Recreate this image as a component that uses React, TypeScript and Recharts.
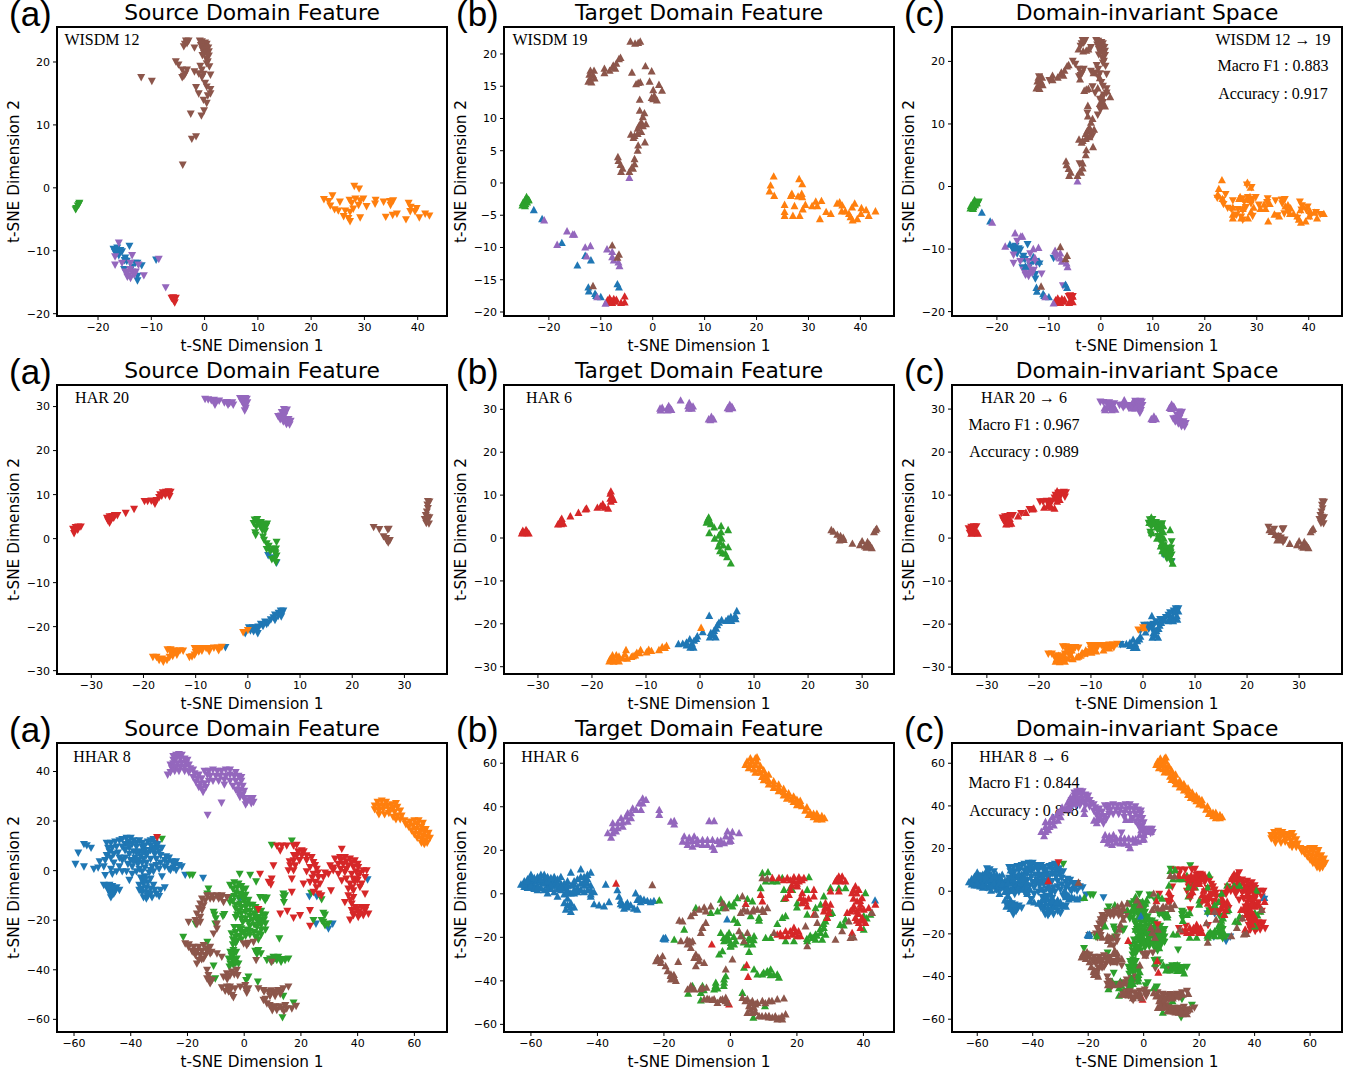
import React from 'react';
import { ScatterChart, Scatter, XAxis, YAxis } from 'recharts';

type Pt = [number, number];

const COLORS = ['#1f77b4', '#ff7f0e', '#2ca02c', '#d62728', '#9467bd', '#8c564b'];

// ---- WISDM source (12)
const wisdmSrcBlue: Pt[] = [[-17.1,-9.8],[-16.4,-9.6],[-15.8,-10],[-16.8,-10.3],[-15.5,-10.2],[-14.1,-9.3],[-16.1,-10.8],[-14.9,-11.2],[-14.6,-11.7],[-15.1,-13],[-13,-12],[-12.6,-12],[-11.8,-12.4],[-9.1,-11.5],[-12.6,-14.1],[-12.6,-14.8],[-16.3,-10.2],[-15,-11.6],[-13.6,-12.6]];
const wisdmSrcOrange: Pt[] = [[28.1,0.2],[29,-0.2],[22.4,-1.9],[24,-1.3],[23.3,-2.2],[25.4,-2.3],[23.6,-2.9],[24.4,-3.5],[25.1,-3.7],[27.2,-2],[28.3,-1.8],[29.8,-1.8],[27.6,-2.5],[28.9,-2.8],[29.2,-2.1],[30.4,-3],[27.9,-3.4],[26.4,-3.7],[27.3,-3.9],[26.1,-4.6],[27,-4.9],[27.3,-5.4],[29.2,-4.8],[32.1,-2],[32,-2.6],[33.6,-2.3],[34.8,-2.2],[35.4,-2.1],[34.9,-2.8],[34,-4.7],[35.3,-4.4],[36.1,-4.2],[38.3,-2.5],[38.7,-3.1],[39.8,-3.3],[38.6,-3.8],[39.5,-3.8],[37.8,-5.1],[40.3,-4.8],[41.4,-4.2],[42.2,-4.5]];
const wisdmSrcGreen: Pt[] = [[-23.5,-2.5],[-23.8,-2.9],[-24.1,-3.3],[-24.2,-3.5],[-23.6,-2.7]];
const wisdmSrcRed: Pt[] = [[-5.9,-17.5],[-5.4,-17.6],[-5.8,-18],[-5.6,-18.3],[-6.2,-17.6]];
const wisdmSrcPurple: Pt[] = [[-16.1,-8.8],[-16.8,-11],[-16.8,-12.3],[-15.5,-12],[-13.6,-10.8],[-13.9,-12],[-12.4,-12.3],[-14.9,-13.4],[-14.2,-14],[-13.6,-13.4],[-14.5,-14.2],[-12.9,-13.4],[-13.9,-14.4],[-14.6,-13.6],[-14,-13],[-13.2,-13.9],[-11.4,-14],[-8.6,-11.4],[-7.3,-15.9]];
const wisdmSrcBrown: Pt[] = [[-0.9,23.3],[-0.5,23.2],[0.1,23],[0.4,22.8],[-0.7,22.6],[-0.2,22.4],[0.3,22.3],[0.7,22.2],[-0.4,21.9],[0.2,21.8],[0.8,21.6],[-0.1,21.3],[0.5,21.1],[-0.4,21],[0.8,20.9],[0.3,20.5],[0.6,20],[0.4,19.7],[-3.5,23.3],[-3,23.3],[-3.7,22.8],[-3.9,22.4],[-3.3,22.9],[-1.9,22.2],[-5.4,20],[-4.9,19.5],[-4.2,18.7],[-3.3,18.7],[-3.6,18.1],[-4.2,17.5],[-3.9,17.7],[-1.9,18.4],[-0.8,19.3],[-0.5,18.7],[-1.1,18.1],[-0.2,18],[-0.5,17.5],[1.1,17.9],[0.9,19.2],[-1.6,15.9],[-1.1,14.9],[0.1,16.6],[0.4,16],[1.1,15.6],[1.1,14.9],[0.6,14.6],[-0.2,13.9],[0.4,13.4],[-0.1,12.2],[-0.6,11.4],[-2.6,11.7],[-1.6,8.1],[-2.4,7.7],[-4.1,3.6],[-11.9,17.5],[-9.9,16.9]];

// ---- WISDM target (19)
const wisdmTgtBlue: Pt[] = [[-22.9,-4.1],[-21.3,-5.5],[-17.5,-9.2],[-13,-11.2],[-11.9,-11.9],[-14.5,-12.7],[-12.4,-16.1],[-12.3,-16.7],[-11.1,-17.1],[-10.9,-17.4],[-10,-17.6],[-6.8,-15.6],[-6.5,-16.1]];
const wisdmTgtOrange: Pt[] = [[23.3,1.1],[22.7,-0.3],[22.5,-1.2],[23.4,-1.9],[28.2,0.7],[28.8,-0.1],[26.8,-1.6],[26.6,-1.9],[28,-2],[28.7,-1.6],[28.8,-2.1],[25.4,-3.3],[27.3,-3.5],[25.4,-4.4],[25.4,-5],[27,-5],[28.3,-5],[28.9,-4],[29.4,-3.3],[30.7,-3.5],[31.4,-2.8],[31.7,-3.5],[32.5,-2.7],[32.2,-5.5],[33.4,-4.4],[34.3,-4.7],[35.5,-3.1],[36,-2.9],[36.5,-3.4],[36.4,-4.3],[37.1,-4.3],[37.8,-4.7],[38.1,-5.2],[38.5,-5.7],[39.4,-5.5],[38.9,-3.1],[38.4,-3.7],[40.2,-3.8],[40.1,-4.7],[41.1,-4.1],[41.6,-5],[42.9,-4.3]];
const wisdmTgtGreen: Pt[] = [[-24.3,-2.1],[-23.9,-2.5],[-24.6,-2.6],[-24.2,-2.9],[-25,-3],[-24.5,-3.2],[-25.1,-3.4],[-24.6,-3.5],[-23.9,-2.6]];
const wisdmTgtRed: Pt[] = [[-8.7,-18.1],[-8.3,-17.8],[-7.9,-18.2],[-7.5,-17.9],[-8.5,-18.5],[-7.8,-18.5],[-7.2,-18.3],[-7,-18],[-5.4,-17.5],[-5.4,-18.4],[-6.1,-18.5]];
const wisdmTgtPurple: Pt[] = [[-4.5,0.9],[-20.9,-5.7],[-16.5,-7.4],[-15.4,-7.9],[-15.1,-7.9],[-18.4,-9.5],[-13,-9.9],[-12,-9.7],[-12.7,-11.3],[-8.8,-10.2],[-7.8,-10.6],[-7.8,-11.4],[-7.5,-11.9],[-6.6,-12.2],[-6.4,-12.8],[-10.7,-17.6],[-9.1,-18.6]];
const wisdmTgtBrown: Pt[] = [[-4.3,22],[-3.4,21.7],[-2.8,21.8],[-2.4,22],[-12,17.5],[-11.3,17.5],[-12.2,16.9],[-11.5,16.8],[-12,16.3],[-11.2,16.3],[-12.4,15.8],[-11.8,15.7],[-9.3,17.8],[-9.3,17.1],[-8.3,17.5],[-7.7,18],[-7.2,17.8],[-7.6,18.3],[-6.5,19.3],[-6.2,19.5],[-7,18.6],[-1.4,18.2],[-4,17.2],[-0.2,17.4],[-2.4,15.7],[-3.2,15.4],[-2.8,15.6],[-0.6,15.8],[1.2,15.3],[1.8,14.4],[0.1,14.5],[0.3,13.6],[-0.2,13.3],[0.8,12.9],[0.1,13.1],[-2.5,13],[-2.5,11.3],[-1.6,10.9],[-1.9,10.3],[-2.2,9.5],[-1.3,9.2],[-2.6,9],[-1.9,8.9],[-2.9,8.5],[-2.2,8],[-4.2,7.6],[-3.5,7.4],[-2.9,7.7],[-3.7,7.1],[-1.5,6.4],[-2.8,5.9],[-2.9,5.1],[-6.7,4.1],[-6.6,3.5],[-6.2,2.9],[-5.8,2.3],[-6.1,1.8],[-4.5,1.8],[-3.8,2.3],[-3.5,3],[-3.5,3.8],[-4,2.5],[-11.5,-15.9],[-7.8,-9.6],[-6.5,-11],[-6.8,-11.5]];

// ---- HAR source (20)
const harSrcBlue: Pt[] = [[6.3,-16.5],[6.8,-16.5],[5.9,-17],[6.5,-17.2],[5.2,-17.4],[5.8,-17.7],[4.9,-18],[5.2,-18.6],[6.4,-17.8],[4.4,-18.5],[3.3,-19],[3.6,-19.5],[2.5,-19.5],[2.9,-20],[2,-20.1],[1.5,-20.3],[1.9,-20.7],[0.9,-20.3],[0.2,-20.3],[0.5,-21],[1.1,-21.2],[1.9,-21.6],[-0.5,-21.6],[-4.3,-24.8],[3.9,-19.2],[3.9,-3.9],[4.7,-4.4],[5.5,-5.6]];
const harSrcOrange: Pt[] = [[-0.9,-21.4],[0,-20.9],[-18.2,-27],[-17.5,-27],[-17,-27.7],[-16.4,-27.4],[-16.2,-28.1],[-15.5,-27.7],[-15,-27],[-15.4,-25.3],[-14.8,-25.3],[-14.2,-25.5],[-14.6,-26.3],[-13.6,-25.8],[-13,-25.5],[-12.4,-25.6],[-13.6,-26.5],[-14.4,-26.8],[-11.2,-27],[-10.7,-26.9],[-10.2,-25],[-9.8,-25.1],[-9.2,-25],[-8.7,-25],[-10,-25.9],[-9.4,-25.8],[-8.8,-25.6],[-10.2,-26.5],[-8,-25],[-7.4,-25],[-7.4,-25.7],[-6.5,-24.9],[-5.8,-24.9],[-5,-24.7],[-5.6,-25.5]];
const harSrcGreen: Pt[] = [[1.3,4.2],[1.8,4.3],[1.1,3.4],[1.9,3.4],[2.5,3.6],[3,3.2],[3.7,3.3],[1.6,2.6],[2.4,2.6],[3.2,2.4],[3.5,2.7],[2.8,1.8],[3.3,1.6],[1.4,1.3],[1.5,0.7],[2.9,0.3],[3.1,-0.4],[3.6,-1.2],[4,-1.8],[4.3,-3],[5.5,-0.9],[5.4,-2.4],[5.2,-3.2],[3.6,-2.5],[4.8,-2.4],[5.3,-3.5],[5.5,-4],[4.6,-4.8],[5.4,-5.5],[5.2,-4.6]];
const harSrcRed: Pt[] = [[-33.5,2.1],[-33,2.5],[-32.5,2.6],[-32,2.6],[-33.2,1.7],[-32.6,1.9],[-33.3,1.1],[-27,4.6],[-26.5,4.9],[-26,5],[-25.5,5.2],[-25,5.2],[-26.8,4],[-26.2,4.3],[-25.7,4.6],[-26.5,3.5],[-23.4,5.7],[-21.8,6.6],[-19.8,8.4],[-19.2,8.4],[-18.5,8.5],[-18,8.4],[-17.5,8.6],[-17.8,7.8],[-17,9.3],[-16.8,9.9],[-16.3,10.4],[-15.7,10.5],[-15.2,10.6],[-16.5,9.6],[-15.8,9.8],[-15,9.5],[-14.8,10.5]];
const harSrcPurple: Pt[] = [[-8.2,31.6],[-7.6,31.5],[-7,31.3],[-6.5,31.4],[-6,31.1],[-5.5,31.2],[-6.3,30.3],[-4.5,30.8],[-4,30.9],[-3.5,30.7],[-3,30.8],[-2.8,30.3],[-3.8,30.3],[-1.5,31.8],[-1,31.7],[-0.5,31.8],[-0.2,31.6],[-1.1,31],[-0.6,31],[-0.1,30.8],[-0.7,30.2],[-0.4,29.6],[-0.6,29],[6.9,29.3],[7.5,29.2],[6.5,28.6],[7.2,28.5],[5.8,27.7],[6.4,27.8],[7,27.8],[6.2,27],[7,27],[7.8,27],[6.8,26.5],[7.6,26.3],[8.2,26.6],[7.4,25.9],[8,25.8]];
const harSrcBrown: Pt[] = [[24.1,2.5],[25.2,2],[26.8,2],[27,2.1],[26,0.4],[26.5,0],[26.9,-1],[27.2,-0.5],[26.6,-0.5],[34.5,8.4],[34.8,8.3],[34.4,7.6],[34.5,6.8],[34.3,6],[34.1,5.2],[34.8,4.7],[33.9,4.3],[34.5,4.2],[34.2,3.4],[34.7,3.3],[34.4,4.8]];

// ---- HAR target (6)
const harTgtBlue: Pt[] = [[6.8,-16.9],[6.5,-18],[6.6,-18.8],[5.7,-18.3],[5.2,-18.7],[5.8,-19.2],[4.8,-19.2],[4,-19],[3.5,-19.6],[3.2,-20.2],[1.7,-18],[3,-21],[2.6,-21.5],[2,-22],[2.4,-22.5],[2.9,-23],[1.8,-23],[0.5,-21.8],[-0.5,-22.8],[-0.7,-23.4],[-1.1,-23.8],[-1.9,-23.5],[-1.5,-24.5],[-2.5,-24.2],[-3.2,-24.5],[-4,-24.6],[-1.8,-25.4],[-1.2,-25.4],[-2.5,-24.9]];
const harTgtOrange: Pt[] = [[0.2,-20.8],[-6.2,-25],[-6.5,-25.5],[-7,-25.3],[-7.6,-26],[-9,-26.2],[-9.5,-25.9],[-9.9,-26.5],[-11,-26],[-11.2,-26.7],[-11.7,-26.6],[-12,-27.2],[-12.4,-27.4],[-12.7,-27.6],[-13.7,-26],[-13.9,-27],[-13.5,-28],[-14.3,-27.9],[-15,-27.5],[-15.5,-27.2],[-16.2,-27.2],[-16.6,-28],[-16,-28.2],[-15.3,-28.3],[-16.8,-28.6],[-16,-28.7],[-15,-28.6]];
const harTgtGreen: Pt[] = [[1.4,4.4],[1.6,4.9],[1.8,4.1],[1.2,3.7],[2,3.4],[2.6,2.6],[1.7,1.3],[2.7,0],[3.9,2.9],[5.2,2],[3.9,1.5],[3.5,0.7],[4,0],[3.7,-0.9],[3.4,-1.8],[4.3,-1.6],[5.2,-2],[3.7,-2.9],[4.2,-3.4],[4.7,-3.5],[5,-4.3],[5.7,-5.8]];
const harTgtRed: Pt[] = [[-33,1.2],[-32.5,1.3],[-32,1.3],[-31.7,1.2],[-32.8,1.8],[-32.2,2],[-32,1.6],[-26.3,3.3],[-25.7,3.4],[-25.3,3.5],[-25.8,4.2],[-25.6,4.6],[-24,5.2],[-22.5,6],[-21.2,6.8],[-21,7],[-19,7.2],[-18.4,7.5],[-18,7.8],[-17.6,7.2],[-17,7],[-18,8],[-16.6,10.5],[-16.5,11],[-16.3,9.8],[-16.6,9.3],[-16,9],[-16.5,8.6]];
const harTgtPurple: Pt[] = [[-7.4,30.3],[-7,30.5],[-7.3,29.9],[-6,30.4],[-5.8,30.9],[-5.5,30.3],[-6,29.9],[-5.3,30],[-3.6,32.2],[-2.2,30.9],[-2,31.6],[-1.7,30.7],[-1.3,30.8],[-2.1,30.3],[-1.5,30.3],[1.6,27.8],[2.1,28.4],[2.5,27.8],[1.9,27.6],[5.1,30.4],[5.5,31.2],[5.9,30.7],[5.4,30.2],[6,30.4]];
const harTgtBrown: Pt[] = [[24.3,2],[24.7,1.6],[25.4,0.9],[26,0.6],[26.5,0.2],[25.8,-0.4],[26.6,-0.3],[28.2,-1.2],[30,-0.6],[29.6,-1.5],[30.5,-1.8],[31,-0.8],[31.3,-1.4],[30.8,-2.1],[31.8,-2.2],[31.5,-1.7],[32.5,2],[32.7,2.3],[32.2,1.5]];

// ---- HHAR source (8)
const hharSrcBlue: Pt[] = [[-59.5,2.5],[-58.5,7],[-56.5,1.5],[-56.5,10.5],[-55.5,10],[-54,9],[-53,0.5],[-51,3.5],[-51.5,1],[-49.5,1.5],[-48.5,11],[-48,9],[-48.5,6],[-47.5,7.5],[-47,11],[-46.5,9],[-46,3],[-49,-2],[-46.5,-1.5],[-45,-0.5],[-44,1.5],[-43,4],[-44.5,7],[-45.5,11.5],[-44,12],[-43,12.5],[-42,10.5],[-41.5,13],[-40,13],[-39,12],[-41,11.5],[-40.5,9],[-38,9.5],[-37,12],[-42,8],[-40.5,6.5],[-39,7.5],[-37,7.5],[-36,9.5],[-35,8],[-34,11.5],[-33,12],[-32,12.5],[-42,5],[-40,4],[-38.5,5],[-36.5,5.5],[-34.5,6],[-33,8],[-31.5,9],[-30.5,9],[-29,9],[-30,7.5],[-31.5,6.5],[-33,4.5],[-29.5,6],[-28,4],[-26.5,5],[-27,3],[-25.5,3.5],[-24.5,2],[-23,2],[-22,1.5],[-25,1],[-26.5,0.5],[-28,1.5],[-29.5,3],[-31,2],[-32.5,1.5],[-34.5,3],[-36,3],[-37.5,2.5],[-39.5,1.5],[-41,2.5],[-35,1],[-36,-0.5],[-38,-0.5],[-40.5,-4],[-36.5,-3],[-35,-2.5],[-33.5,-1],[-32,-0.5],[-29,-2.5],[-26,0],[-24,0],[-20.8,-1.9],[-14.5,-3.1],[-49.5,-6],[-48.5,-6.5],[-47.5,-6],[-46.5,-6.5],[-45,-7],[-48,-8],[-47,-8.5],[-45.5,-8.5],[-44,-8],[-47,-10],[-46,-9.5],[-47,-11],[-37,-6],[-35.5,-5.5],[-34,-5],[-32,-6],[-36,-7.5],[-34.5,-7],[-33,-7.5],[-36,-9],[-34.5,-9],[-33,-9.5],[-35.5,-11],[-34,-10.5],[-32.5,-11],[-31,-9.5],[-30,-10.5],[-29.5,-8],[-28,-7],[-36,-3.8],[-1.6,-11.8],[23,-10.6],[25.6,-10.6],[43.5,-3.8],[25.3,-21.6],[29.7,-23.6],[31.2,-21.6],[-49,4],[-47,5],[-46,6.5],[-44,5],[-45,9.5],[-43,9.5],[-41,10],[-39.5,10.5],[-38,11],[-36,11],[-35,10],[-33,10],[-31.5,11],[-30.5,10.5],[-32,7.5],[-34,7],[-36,7],[-38,7],[-39,3.5],[-37.5,4],[-35.5,4.5],[-31,4.5],[-27.5,5.5],[-24,3.5],[-30,0.5],[-33,0],[-37,0.5],[-39.5,-1.5],[-41.5,-0.5],[-43,-0.5],[-47,0.5],[-37,-8],[-35,-4],[-33,-3.5],[-31.5,-8],[-34.5,-11.5],[-46,-7.5],[-48,-7]];
const hharSrcOrange: Pt[] = [[47,27.5],[48.5,28],[50,27.5],[46,26],[47.5,26],[49,26],[50.5,26],[52,26.5],[53.5,27],[46,24.5],[47.5,24],[49,24.5],[51,24.5],[52.5,25],[54,25.5],[47.5,22.5],[49.5,22.5],[51,23],[53,23.5],[55,24],[52.5,21.5],[54,22],[55.5,22],[53.5,20.5],[55,20.5],[56.5,20],[57,18.5],[58.5,19.5],[60,20],[61.5,20],[63,19],[58,17.5],[59.5,18],[61,18.5],[62.5,17.5],[64,16.5],[59,16],[60.5,16.5],[62,16],[63.5,15.5],[65,15],[60,14.5],[61.5,14.5],[63,14],[64.5,13.5],[65.5,13],[61,13],[62.5,12.5],[64,12],[62.5,11],[63.5,10.5],[64.5,11]];
const hharSrcGreen: Pt[] = [[-29,12.6],[-19.2,-1.9],[-18.2,-1.9],[-1.6,-1.5],[2.1,-1.9],[4.2,-4.6],[9.7,10.2],[16.8,11.9],[-5,-6],[-3.5,-5],[-2,-5.5],[-1,-6.5],[-4,-7.5],[-2.5,-7],[-0.5,-8],[0.5,-7.5],[-0.5,-10],[0.5,-10],[-5,-11],[-5,-13],[-4,-12.5],[-3,-14],[-1.5,-13.5],[0,-12.5],[1.5,-12],[-3,-15.5],[-1,-15],[0.5,-15],[2,-14],[3,-14],[4,-15],[4.5,-16.5],[-2.5,-18],[-1,-17.5],[0.5,-17],[2,-16.5],[3.5,-17.5],[-3,-19],[-1,-19.5],[0.5,-19.5],[1.5,-21],[-0.5,-21],[5,-19],[6.5,-18],[7.5,-18],[6,-20],[7,-20],[5,-21],[6,-22],[7.5,-21.5],[4.5,-23],[6,-24],[7.5,-24],[3.5,-25],[5,-25.5],[6,-26],[4,-27],[5,-28],[1,-24],[2,-24.5],[0,-25],[-1,-25],[-3,-25],[-4.5,-25.5],[-3,-27],[-1.5,-26.5],[0.5,-26.5],[2,-26],[-4,-28],[-2.5,-28.5],[-1,-28],[-3,-29.5],[-12.6,-7.5],[-13,-9.5],[-10.8,-16.9],[-10.5,-18],[-10,-19.5],[-7,-17.8],[-7.5,-18.5],[-10.2,-21.6],[-17.2,-21.6],[-13,-29],[-10.8,-38.6],[-21.5,-27],[5.6,-10.9],[6.8,-11],[8,-11.1],[7.4,-12.2],[13.8,-9.5],[14.4,-10.2],[13.8,-11],[14,-12.9],[12.4,-27.6],[23.6,-9.2],[27.3,-11.8],[27.9,-17.3],[28.5,-18],[24.4,-20.2],[27.9,-20.9],[28.5,-22.3],[29.7,-21.6],[27.3,-20.2],[-3.8,-32.3],[-4.9,-33],[-3.8,-34.3],[-5.5,-35.7],[-4.3,-36],[-2.6,-35.7],[-2,-37.7],[-4.9,-37.7],[-3.8,-38.3],[-5.2,-39],[3.9,-32.6],[5,-32.3],[4.5,-33.9],[5.9,-33.6],[9.1,-35.7],[10.3,-35],[11.5,-36.3],[13.3,-35.9],[14.4,-36.3],[15.6,-35.7],[10.3,-36.3],[8,-36.3],[1.5,-43],[0.7,-44.4],[4.8,-45],[13.8,-50.8],[17.4,-53.5],[13.5,-59.4],[-12,-45],[-10.2,-43.7],[-3,-9],[-1.5,-9.5],[-2,-11],[-3.5,-10.5],[-0.5,-11.5],[1,-13.5],[-2,-16.5],[2,-18.5],[3,-20],[3.5,-22],[2,-22.5],[4,-19],[-2,-23],[-3.5,-23],[-1,-23.5],[6,-16.5],[-4,-30],[-3.8,-36.5],[-2.8,-33],[-4.5,-34.5],[-3,-37.5],[12,-35],[11,-35.5],[9.5,-37],[13,-37]];
const hharSrcRed: Pt[] = [[-30.7,13.3],[5.6,-1.5],[5,-15.8],[10.3,1.9],[9.7,-3.5],[8.6,-4.8],[9.4,-5.8],[11.5,9.9],[13.3,9.9],[15,9.9],[12.7,7.9],[17.4,9.9],[18.5,10.2],[20.3,7.9],[18.5,5.9],[20.3,5.9],[22,5.9],[17.4,3.9],[23.8,5.2],[16.2,1.9],[18,1.9],[15.6,-0.1],[17.4,-0.1],[16.8,-3.5],[24.4,3.2],[25.6,0.5],[23.2,1.2],[24.4,-1.5],[26.2,-2.8],[27.9,-2.8],[29.7,-1.5],[23.2,-4.8],[25,-4.8],[26.7,-5.5],[20.9,-5.5],[24.4,-8.8],[26.2,-9.5],[27.2,-10.2],[16.8,-8.8],[30.6,-8.2],[32,4.6],[30.3,1.9],[31.4,-0.1],[34.4,8.6],[33.8,5.2],[35.5,5.2],[37.3,4.6],[39,3.9],[33.2,2.5],[34.9,2.5],[36.7,1.9],[38.5,1.2],[40.2,1.2],[42,-0.1],[43.2,-0.1],[33.2,-1.5],[35.5,-0.8],[37.9,-1.5],[40.2,-2.1],[42.6,-2.8],[34.4,-4.2],[37.3,-5.5],[39,-4.8],[41.4,-5.5],[36.7,-7.5],[38.5,-8.2],[40.8,-6.8],[36.7,-10.2],[38.5,-10.9],[42.6,-9.5],[35.5,-12.9],[37.9,-13.5],[39,-14.9],[41.4,-14.9],[37.9,-16.2],[40.2,-16.9],[42.6,-16.2],[43.8,-17.6],[37.3,-20],[40.2,-18.9],[42,-18.2],[38.5,-18.2],[12.7,-17.6],[15.2,-16.5],[17.4,-19.2],[19.7,-18.2],[23.2,-16.2],[23.2,-22.5],[19,7.5],[21,7.5],[17.5,6],[19.5,4],[22,4],[25,2],[26,-1],[24,-3],[22,-0.5],[16,3.5],[36,3.5],[34,4],[38,3],[40,2.5],[36,0.5],[34,0.5],[39.5,-0.5],[41,-1],[38.5,-3.5],[36,-3.5],[40,-4],[38,-7],[37.5,-12],[40,-15.5],[38.5,-17.5],[41,-17.5],[43,-15],[31.5,1],[28.5,-1],[25.5,-7]];
const hharSrcPurple: Pt[] = [[-25,46],[-24,46.5],[-23,46.8],[-22,46.5],[-25,44.5],[-24,45],[-22.5,45],[-21,45],[-20,44.5],[-26,42.5],[-25,43],[-23.5,43],[-22,43.3],[-20.5,43],[-19.5,42.5],[-25.5,41],[-24,41.5],[-22.5,41.5],[-21,41.5],[-19,41],[-18,40.5],[-27,38.5],[-26,39.5],[-24.5,40],[-23,40],[-21,40],[-19.5,39.5],[-17.5,39],[-16,38.5],[-18,37.5],[-16.5,37],[-15,37],[-17,35.5],[-15.5,35],[-14,35],[-16,33.5],[-15,33],[-13.5,33.5],[-14.5,31.5],[-12.5,36],[-13,38.5],[-14,40],[-12.5,40],[-11,40.5],[-9.5,40],[-8,40],[-6.5,40.5],[-5,40.5],[-3,39.5],[-12,38],[-10,38],[-8.5,38],[-6.5,38],[-5,38.5],[-3.5,38],[-2,38],[-1,37.5],[-11,36],[-9,36],[-7,36.5],[-5,36],[-3,36],[-1,36],[-7,34.5],[-4,34],[-2,34.5],[-0.5,34],[-3,32.5],[-1.5,32.5],[0,32],[-2,31],[-0.5,30.5],[-1.5,29.5],[0,29],[0.5,28],[1,27.5],[2,29],[3,29],[3.3,27.5],[2.5,27],[0.5,26.5],[-12.9,22.3],[-8,27.2]];
const hharSrcBrown: Pt[] = [[-13.1,-10.2],[-11.4,-10.2],[-9.6,-10.2],[-7.9,-10.2],[-6.1,-10.9],[-10.8,-11.5],[-9,-11.5],[-7.3,-12.9],[-14.9,-11.5],[-13.7,-12.2],[-15.5,-13.5],[-14.3,-14.2],[-16,-15.5],[-14.9,-16.2],[-16.7,-17.6],[-15.5,-18.9],[-17.2,-20.2],[-15.5,-20.9],[-19.6,-20.9],[-16.7,-21.8],[-9.6,-21.6],[-10.8,-25.6],[-9.6,-23.6],[-20.8,-29.6],[-19.6,-31],[-17.8,-31],[-16,-31],[-14.3,-30.3],[-18.4,-32.6],[-16.5,-32.6],[-14.9,-32.6],[-13.1,-31.6],[-12,-31],[-17.2,-34.3],[-15.5,-34.3],[-13.7,-34.3],[-12,-33.6],[-9.6,-33.6],[-7.9,-35],[-16,-36.3],[-14.3,-35.7],[-16.7,-37.7],[-13.1,-40.3],[-12.6,-42.4],[-13.1,-43.7],[-11.4,-44.4],[-12,-45.7],[-7.3,-43],[-6.1,-41.7],[-4.3,-41],[-2.6,-40.3],[-2.3,-42.4],[-7.9,-47.3],[-6.1,-47],[-6.7,-48.7],[-4.9,-48.4],[-4.3,-50.4],[-3.2,-47.7],[-3.8,-51.3],[-1.4,-47],[0.4,-46.4],[1.5,-47.7],[0.9,-49.5],[4.2,-36.3],[9.7,-37],[5,-47.7],[6.8,-48.4],[8.6,-49.1],[10.3,-49.1],[12,-48.4],[13.8,-47.7],[15.6,-47],[9.1,-50.8],[10.9,-50.8],[12.7,-50],[6.8,-52.4],[8,-53.8],[9.7,-55.1],[11.5,-56.4],[13.3,-55.8],[15,-55.8],[16.8,-55.8],[18.3,-54.8],[9.9,-56.5],[-0.2,-29.6],[1.5,-29.4],[3.3,-29],[0.9,-30.3],[-12,-11.5],[-8,-11],[-11.5,-33],[-13,-33],[-15,-36],[-18,-33],[-19.5,-30],[-17,-33],[-12.5,-44],[-6,-44],[-5,-42.5],[-3.5,-42],[-5,-47],[-5.5,-49],[0.5,-48],[7,-49],[9.5,-48.5],[11,-49],[13,-49],[7.5,-52],[9,-54.5],[11,-55],[12.5,-55],[14.5,-54.5],[14,-57]];

// ---- HHAR target (6)
const hharTgtBlue: Pt[] = [[-63,4.5],[-62,6],[-62,3.5],[-61,7],[-61,5],[-61,3],[-60,9],[-60,7],[-60,5],[-60,3],[-59,6],[-59,4],[-58,8],[-58,6.5],[-58,4],[-58,2],[-57,9],[-57,5.5],[-57,3],[-56,9],[-56,7],[-56,5],[-56,2],[-55,8],[-55,4],[-55,0.5],[-54,5.5],[-54,2.5],[-53,8],[-53,6],[-53,4],[-53,1],[-52,7],[-52,2.5],[-52,-1],[-51,8],[-51,5],[-51,2],[-50,5],[-50,3],[-50,0],[-49,6],[-49,2],[-48,10],[-48,4],[-48,0.5],[-47,4.5],[-47,2],[-46,7],[-46,3],[-46,1],[-45,11.5],[-45,5],[-45,2],[-44,8],[-44,4],[-44,1],[-43,9],[-43,5],[-43,2],[-42,10],[-42,0],[-42,-1],[-48,-4],[-49,-5],[-48,-6],[-49.5,-7],[-48,-8],[-47,-6],[-50,-4],[-49,-2],[-41,-4.5],[-39.5,-5],[-38,-5.5],[-36.5,-3.5],[-37.5,4.5],[-34,2],[-33.5,-1],[-33,-3],[-32.5,-5],[-32,-6.5],[-31,-4],[-31,-6],[-30,-5],[-29,-6.5],[-28.5,0.5],[-27.5,-2],[-27,-3.5],[-26,-2.5],[-28,-7],[-25,-3],[-24,-3.5],[-23,-3],[-20,-20.5],[-19.5,-20],[-20.2,-20.2],[-19.7,-20.7],[-1,-11.5],[43.5,-2.8],[-62,4.5],[-61,6],[-60,4],[-59,7.5],[-59,2.5],[-57,7],[-55,6],[-54,7.5],[-54,4],[-52,5],[-52,4],[-51,3.5],[-49,4],[-47,6],[-45,8],[-44,6],[-43,7],[-42,4],[-42,2],[-41,1],[-47,0.5],[-49,0.5],[-55,2.5],[-58,3],[-33,-4.5],[-31.5,-5],[-28,-2.5],[-27,-2]];
const hharTgtOrange: Pt[] = [[6,62.5],[7.5,62.5],[8,63],[5,61],[6.5,61],[8,61],[4.5,59.5],[6,59.5],[7.5,59.5],[9,59],[5.5,58],[7,57.5],[8.5,57.5],[10,57],[7.5,56],[9,56],[10.5,55],[9.5,54],[11,53.5],[11.5,55],[10,52.5],[11.5,52],[13,52],[11.5,50.5],[13,50.5],[14.5,50.5],[13,49],[14.5,49],[16,48.5],[14.5,47.5],[16,47],[17.5,46.5],[16,45.5],[17.5,45],[19,45],[17,44],[18.5,43.5],[20,43.5],[19,42.5],[20.5,42],[21,43],[20,41],[21.5,40.5],[22.5,38.5],[23,40],[24,37.5],[23.5,36.5],[25,37],[25,35.5],[26.5,35.5],[26,37],[27.5,36],[26,34.5],[27.5,34.5],[28.3,35]];
const hharTgtGreen: Pt[] = [[-21.4,-2.8],[-2.9,-2.4],[-1.9,-4.7],[-0.4,-4.7],[1.1,-4],[2.1,-1.7],[0.6,-5.5],[5.1,-2.1],[6.6,-3.2],[-10.4,-6.3],[-5.9,-8.5],[-3.9,-7.8],[-2.4,-6.3],[6.1,-10],[8.6,-10.8],[8.6,-12],[1.1,-11.6],[2.1,-13.1],[-13.9,-16.2],[-16.9,-20.8],[-2.9,-17.7],[-0.4,-17.7],[-1.9,-21.5],[-0.9,-20.8],[0.1,-22.3],[1.1,-23],[1.6,-21.5],[0.1,-23.8],[3.6,-19.2],[5.6,-20],[7.1,-19.2],[5.1,-23],[6.6,-23],[5.6,-26.4],[-2.4,-26.1],[-3.4,-27.6],[4.1,-33.7],[7.1,-34.5],[8.1,-36.8],[9.6,-36.8],[11.1,-35.3],[12.1,-34.5],[12.1,-37.1],[14.1,-36.8],[14.6,-38.3],[-1.9,-39],[-1.4,-37.6],[-1.9,-40.6],[-4.4,-40.6],[-4.9,-43.7],[-3.9,-43.2],[-8.4,-42.1],[-11.4,-42.1],[-12.7,-45.6],[-8.9,-45.2],[-8.9,-48.7],[3.6,-45.2],[10.4,-51.3],[6.9,-56.6],[9.6,9.8],[11.3,10.2],[10.6,6],[9.1,2.9],[12.6,6],[15.6,7.5],[16.1,2.1],[18.6,2.1],[23.6,7.9],[23.1,2.1],[16.1,-2.1],[20.1,-4],[23.1,-9.3],[25.6,-6.3],[27.1,-4.7],[28.1,-0.9],[30.6,-8.5],[28.6,-12.4],[28.1,-15.4],[27.1,-17.7],[25.6,-18.5],[24.6,-20],[23.1,-21.5],[27.6,-20.8],[25.6,-20.8],[28.6,-18.5],[16.6,-10],[15.6,-10.8],[14.1,-13.6],[12.1,-20],[10.6,-20],[16.6,-21.5],[19.1,-21.5],[34.6,-11.6],[34.1,-14.2],[40.1,-10],[42.1,-9.3],[40.1,-16.2],[30.1,2.9],[32.6,2.9],[34.6,2.9],[40.6,0.6],[-1,-19],[1,-19.5],[-2,-20],[0,-24],[-0.5,-21],[7,-21],[4,-22],[6,-21],[10,-36],[11,-36],[13,-37],[-2,-42],[-4.5,-42],[-8,-44],[28,-13.5],[27,-16],[26,-19],[24,-19],[23,-20.5],[29,-10.5],[30,-9],[20,-6],[18,3],[14,6],[25,-20],[33,-14],[41,-11]];
const hharTgtRed: Pt[] = [[-34.4,5],[-0.4,-50.5],[4.9,-32.5],[5.3,-37.9],[-5.6,-23],[4.6,-4.4],[14.6,7.5],[12.6,7.5],[17.1,7.5],[19.1,7.9],[20.6,7.9],[22.1,7.5],[19.1,6],[20.6,6],[20.1,3.7],[18.1,2.1],[16.6,-1.7],[17.6,-0.2],[9.1,-0.2],[9.6,-3.2],[25.1,2.1],[21.6,0.6],[21.1,-1.7],[22.6,-3.2],[21.6,-4],[23.1,-5.5],[25.1,-0.9],[32.6,8.2],[33.6,8.2],[31.6,6],[33.1,6],[34.6,6],[30.1,1.4],[32.6,1.4],[37.6,3.7],[38.6,2.1],[36.6,0.6],[39.6,-1.7],[38.1,-3.2],[39.1,-4.7],[37.1,-5.5],[36.1,-7.8],[38.1,-7.8],[40.1,-7],[41.6,-6.3],[35.1,-8.5],[37.6,-10.8],[39.6,-10.8],[38.6,-13.1],[40.6,-13.1],[39.1,-15.4],[36.6,-17.7],[28.6,-4],[30.1,-4.7],[28.1,-7.8],[29.6,-8.5],[29.1,-10.8],[25.1,-9.3],[14.1,-18.5],[16.6,-16.9],[17.1,-19.2],[18.6,-18.5],[19.1,-15.4],[20.1,-19.2],[21.1,-19.2],[15.6,-19.2],[43.6,-4.7],[16,6.5],[18,6.5],[21.5,6.5],[20,5],[18.5,4],[22,-2.5],[23.5,-2],[32,7],[33,7],[37,2],[38,0.5],[37,-2],[39,-3],[37,-7],[39,-6.5],[38.5,-9],[38,-12],[39.5,-12],[28.5,-6],[29.5,-6.5],[15,-18],[18,-17],[19.5,-17.5],[20.5,-17]];
const hharTgtPurple: Pt[] = [[-26.4,44.1],[-25.4,43.4],[-27.4,41.8],[-26.4,41.8],[-29.4,39.5],[-28.4,38.8],[-26.9,38.8],[-30.9,37.3],[-29.9,37.3],[-31.4,35.7],[-29.9,35],[-32.9,35],[-32.4,33.1],[-30.9,33.4],[-35.4,32.7],[-33.9,32.7],[-35.4,30.4],[-33.9,30.4],[-32.4,31.1],[-36.9,28.1],[-35.4,28.1],[-34.4,28.9],[-35.9,26.1],[-21.4,38.8],[-21.4,36.5],[-17.9,33.4],[-16.9,33.7],[-16.9,32.2],[-6.4,33.7],[-4.9,33.7],[-13.9,26.6],[-12.4,26],[-10.9,26.6],[-14.4,24.3],[-12.9,24.3],[-11.4,24.6],[-9.9,25],[-8.4,25],[-6.9,25],[-5.4,25],[-3.9,24.6],[-2.9,24.6],[-12.9,22.7],[-11.4,22],[-9.9,23.1],[-8.4,22.7],[-6.9,22.7],[-5.4,22],[-3.4,23.1],[-1.9,23.5],[-0.4,24.3],[-4.9,20.5],[-0.9,28.9],[0.6,28.6],[2.6,28.1],[-1.4,26.6],[0.1,26.6],[0.1,24.6]];
const hharTgtBrown: Pt[] = [[-23.5,4.3],[-7.9,-6],[-9.4,-7],[-10.9,-8.5],[-11.9,-10],[-7.4,-7.8],[-5.9,-5.5],[-15.4,-12],[-14.4,-12.4],[-7.4,-13.1],[-8.4,-15.4],[-8.9,-17.7],[-14.9,-21.5],[-12.4,-21.5],[-12.9,-23],[-11.4,-21.5],[-11.9,-24.6],[-10.4,-27.6],[-10.9,-29.2],[-9.4,-30.7],[-7.9,-31.5],[-10.4,-33],[-21.9,-29.2],[-20.4,-28.4],[-22.4,-30.7],[-20.9,-31.5],[-18.9,-35.3],[-17.9,-36.8],[-16.9,-38.3],[-17.9,-39],[-16.4,-39.8],[-15.7,-31],[-12.9,-43.7],[-11.9,-42.1],[-10.9,-43.7],[-8.4,-42.9],[-7.2,-42.9],[-7.9,-48.2],[-6.4,-48.2],[-4.9,-48.2],[-3.9,-49.8],[-2.4,-48.2],[-1.4,-47.5],[-0.9,-49.8],[3.6,-47.5],[5.1,-48.2],[6.6,-49],[8.1,-49.8],[9.6,-49],[11.6,-49],[14.1,-48.2],[16.1,-47.8],[5.6,-51.3],[7.1,-52],[5.1,-54.4],[6.6,-54.4],[8.6,-55.9],[10.6,-55.9],[12.6,-56.6],[14.6,-56.9],[16.6,-55.1],[15.6,-57.4],[14.1,-57.4],[11.6,-55.9],[0.6,-29.9],[-1.4,-34.5],[-2.4,-4],[-1.4,-6.3],[3.6,-0.9],[3.1,-8.5],[5.1,-7.8],[6.6,-7.8],[8.1,-7],[9.6,-7],[11.1,-6.3],[2.6,-16.9],[3.1,-19.2],[5.1,-17.7],[4.1,-21.5],[9.6,7.5],[11.1,7.2],[13.1,-17.7],[22.6,-14.7],[23.1,-23.8],[26.1,-13.1],[25.6,-9.3],[31.6,-20.8],[33.6,-16.9],[36.1,-20],[37.1,-19.7],[35.6,-12.4],[42.6,-8.5],[-12,-22],[-13,-21],[-9.5,-29],[-21,-30],[-19.5,-33],[-18,-37.5],[-17,-37],[-12,-43],[-9,-43.5],[-7,-48],[-5.5,-48.5],[-3,-48.5],[-1.5,-49],[4.5,-49],[6,-50],[7.5,-50.5],[10.5,-50],[12.5,-49],[6,-53],[7.5,-54],[9.5,-56],[11.5,-56.5],[13.5,-56],[15.5,-56],[7,-7],[10,-8],[4,-7]];

const wisdmSrc = [wisdmSrcBlue, wisdmSrcOrange, wisdmSrcGreen, wisdmSrcRed, wisdmSrcPurple, wisdmSrcBrown];
const wisdmTgt = [wisdmTgtBlue, wisdmTgtOrange, wisdmTgtGreen, wisdmTgtRed, wisdmTgtPurple, wisdmTgtBrown];
const harSrc = [harSrcBlue, harSrcOrange, harSrcGreen, harSrcRed, harSrcPurple, harSrcBrown];
const harTgt = [harTgtBlue, harTgtOrange, harTgtGreen, harTgtRed, harTgtPurple, harTgtBrown];
const hharSrc = [hharSrcBlue, hharSrcOrange, hharSrcGreen, hharSrcRed, hharSrcPurple, hharSrcBrown];
const hharTgt = [hharTgtBlue, hharTgtOrange, hharTgtGreen, hharTgtRed, hharTgtPurple, hharTgtBrown];

const ticks20to40 = [-20, -10, 0, 10, 20, 30, 40];
const ticks20to20 = [-20, -10, 0, 10, 20];
const ticks20by5 = [-20, -15, -10, -5, 0, 5, 10, 15, 20];
const ticks30 = [-30, -20, -10, 0, 10, 20, 30];
const ticks60 = [-60, -40, -20, 0, 20, 40, 60];
const ticks60to40 = [-60, -40, -20, 0, 20, 40];

const TITLES = ['Source Domain Feature', 'Target Domain Feature', 'Domain-invariant Space'];
const LETTERS = ['(a)', '(b)', '(c)'];
const COL_X = [57, 504, 952];
const ROW_Y = [27, 385, 743];
const FRAME_W = 390;
const FRAME_H = 289;

interface Note { text: string; x: number; y: number }
interface Panel {
  col: number;
  row: number;
  xDomain: [number, number];
  yDomain: [number, number];
  xTicks: number[];
  yTicks: number[];
  source?: Pt[][];
  target?: Pt[][];
  notes: Note[];
}

const panels: Panel[] = [
  { col: 0, row: 0, xDomain: [-27.7, 45.5], yDomain: [-20.37, 25.56], xTicks: ticks20to40, yTicks: ticks20to20, source: wisdmSrc, notes: [{ text: 'WISDM 12', x: 102, y: 39 }] },
  { col: 1, row: 0, xDomain: [-28.64, 46.47], yDomain: [-20.62, 24.18], xTicks: ticks20to40, yTicks: ticks20by5, target: wisdmTgt, notes: [{ text: 'WISDM 19', x: 550, y: 39 }] },
  { col: 2, row: 0, xDomain: [-28.64, 46.4], yDomain: [-20.7, 25.5], xTicks: ticks20to40, yTicks: ticks20to20, source: wisdmSrc, target: wisdmTgt, notes: [
    { text: 'WISDM 12 → 19', x: 1273, y: 39 }, { text: 'Macro F1 : 0.883', x: 1273, y: 65 }, { text: 'Accuracy : 0.917', x: 1273, y: 93 },
  ] },
  { col: 0, row: 1, xDomain: [-36.57, 38.16], yDomain: [-30.76, 34.9], xTicks: ticks30, yTicks: ticks30, source: harSrc, notes: [{ text: 'HAR 20', x: 102, y: 397 }] },
  { col: 1, row: 1, xDomain: [-36.28, 35.9], yDomain: [-31.7, 35.67], xTicks: ticks30, yTicks: ticks30, target: harTgt, notes: [{ text: 'HAR 6', x: 549, y: 397 }] },
  { col: 2, row: 1, xDomain: [-36.7, 38.24], yDomain: [-31.6, 35.6], xTicks: ticks30, yTicks: ticks30, source: harSrc, target: harTgt, notes: [
    { text: 'HAR 20 → 6', x: 1024, y: 397 }, { text: 'Macro F1 : 0.967', x: 1024, y: 424 }, { text: 'Accuracy : 0.989', x: 1024, y: 451 },
  ] },
  { col: 0, row: 2, xDomain: [-66, 71.5], yDomain: [-65.1, 51.5], xTicks: ticks60, yTicks: ticks60to40, source: hharSrc, notes: [{ text: 'HHAR 8', x: 102, y: 756 }] },
  { col: 1, row: 2, xDomain: [-68.1, 49.2], yDomain: [-63.5, 69.3], xTicks: ticks60to40, yTicks: ticks60, target: hharTgt, notes: [{ text: 'HHAR 6', x: 550, y: 756 }] },
  { col: 2, row: 2, xDomain: [-69.1, 71.5], yDomain: [-66, 69.5], xTicks: ticks60, yTicks: ticks60, source: hharSrc, target: hharTgt, notes: [
    { text: 'HHAR 8 → 6', x: 1024, y: 756 }, { text: 'Macro F1 : 0.844', x: 1024, y: 782 }, { text: 'Accuracy : 0.848', x: 1024, y: 810 },
  ] },
];

const minus = (v: number) => (v < 0 ? `\u2212${Math.abs(v)}` : `${v}`);

const triangle = (fill: string, down: boolean) => (props: any) => {
  const { cx, cy } = props;
  const d = down
    ? `M${cx - 4},${cy - 3.7}L${cx + 4},${cy - 3.7}L${cx},${cy + 3.7}Z`
    : `M${cx - 4},${cy + 3.7}L${cx + 4},${cy + 3.7}L${cx},${cy - 3.7}Z`;
  return <path d={d} fill={fill} />;
};

const toRows = (pts: Pt[]) => pts.map(([x, y]) => ({ x, y }));

const LEFT = 52;
const TOP = 27;
const BOTTOM = 46;

const PanelChart: React.FC<{ panel: Panel }> = ({ panel }) => {
  const frameX = COL_X[panel.col];
  const frameY = ROW_Y[panel.row];
  const originX = frameX - LEFT;
  const originY = frameY - TOP;
  const labelX = LEFT - 43;
  const centerY = TOP + FRAME_H / 2;
  return (
    <div style={{ position: 'absolute', left: originX, top: originY }}>
      <ScatterChart
        width={FRAME_W + LEFT + 6}
        height={FRAME_H + TOP + BOTTOM}
        margin={{ top: TOP, right: 6, bottom: 0, left: 0 }}
      >
        <XAxis
          type="number"
          dataKey="x"
          domain={panel.xDomain}
          ticks={panel.xTicks}
          allowDataOverflow
          interval={0}
          height={BOTTOM}
          tickFormatter={minus}
          tickSize={4}
          tickMargin={3}
          axisLine={false}
          tick={{ fontSize: 11, fill: '#000', fontFamily: 'DejaVu Sans' }}
          tickLine={{ stroke: '#000' }}
          label={{ value: 't-SNE Dimension 1', position: 'insideBottom', offset: 11, fontSize: 15.3, fill: '#000', fontFamily: 'DejaVu Sans' }}
        />
        <YAxis
          type="number"
          dataKey="y"
          domain={panel.yDomain}
          ticks={panel.yTicks}
          allowDataOverflow
          interval={0}
          width={LEFT}
          tickFormatter={minus}
          tickSize={4}
          tickMargin={3}
          axisLine={false}
          tick={{ fontSize: 11, fill: '#000', fontFamily: 'DejaVu Sans' }}
          tickLine={{ stroke: '#000' }}
        />
        {(panel.source || []).map((pts, i) => (
          <Scatter key={`s${i}`} data={toRows(pts)} shape={triangle(COLORS[i], true)} isAnimationActive={false} />
        ))}
        {(panel.target || []).map((pts, i) => (
          <Scatter key={`t${i}`} data={toRows(pts)} shape={triangle(COLORS[i], false)} isAnimationActive={false} />
        ))}
        <rect x={LEFT} y={TOP} width={FRAME_W} height={FRAME_H} fill="none" stroke="#000" strokeWidth={2} />
        <text
          x={labelX}
          y={centerY}
          transform={`rotate(-90 ${labelX} ${centerY})`}
          textAnchor="middle"
          dominantBaseline="central"
          fontSize={15.3}
          fontFamily="DejaVu Sans"
          fill="#000"
        >
          t-SNE Dimension 2
        </text>
        <text x={LEFT + FRAME_W / 2} y={TOP - 7} textAnchor="middle" fontSize={21.8} fontFamily="DejaVu Sans" fill="#000">
          {TITLES[panel.col]}
        </text>
        {panel.notes.map(n => (
          <text
            key={n.text}
            x={n.x - originX}
            y={n.y - originY}
            textAnchor="middle"
            dominantBaseline="central"
            fontSize={16}
            fontFamily="Liberation Serif"
            fill="#000"
          >
            {n.text}
          </text>
        ))}
      </ScatterChart>
    </div>
  );
};

const App: React.FC = () => (
  <div style={{ position: 'absolute', left: 0, top: 0, width: 1364, height: 1076, background: '#fff', overflow: 'hidden' }}>
    {panels.map(p => (
      <PanelChart key={`${p.row}-${p.col}`} panel={p} />
    ))}
    {ROW_Y.map((y, r) =>
      LETTERS.map((l, c) => (
        <div
          key={`${r}${c}`}
          style={{
            position: 'absolute',
            left: COL_X[c] - 48,
            top: y - 32,
            fontSize: 35,
            lineHeight: '38px',
            fontFamily: 'Liberation Sans',
            color: '#000',
          }}
        >
          {l}
        </div>
      ))
    )}
  </div>
);

export default App;
